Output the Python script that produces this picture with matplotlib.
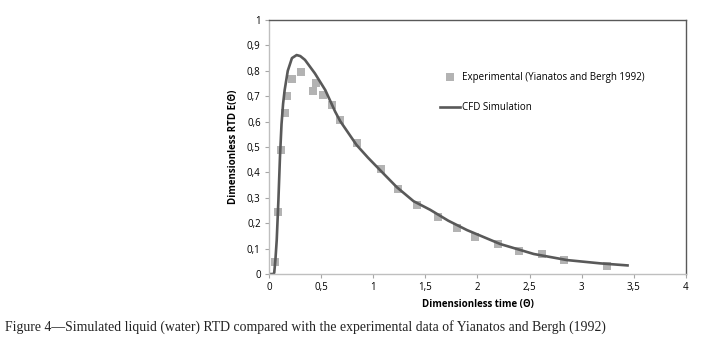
import matplotlib.pyplot as plt

# experimental RTD (Yianatos and Bergh 1992)
exp_theta = [0.058, 0.083, 0.115, 0.154, 0.17, 0.22, 0.31, 0.42, 0.45, 0.52, 0.60, 0.68,
             0.84, 1.07, 1.24, 1.42, 1.62, 1.80, 1.98, 2.20, 2.40, 2.62, 2.83, 3.24]
exp_E = [0.047, 0.244, 0.49, 0.634, 0.70, 0.768, 0.796, 0.72, 0.753, 0.705, 0.664, 0.606,
         0.517, 0.415, 0.334, 0.273, 0.223, 0.183, 0.145, 0.12, 0.091, 0.079, 0.054, 0.03]

# CFD simulation curve
cfd_theta = [0.0, 0.04, 0.05, 0.062, 0.074, 0.09, 0.105, 0.12, 0.135, 0.15, 0.18, 0.22,
             0.265, 0.30, 0.345, 0.44, 0.54, 0.635, 0.683, 0.84, 0.95, 1.066, 1.226,
             1.386, 1.546, 1.72, 1.90, 2.22, 2.54, 2.86, 3.18, 3.44]
cfd_E = [0.0, 0.0, 0.005, 0.06, 0.134, 0.29, 0.46, 0.59, 0.67, 0.724, 0.80, 0.85,
         0.862, 0.858, 0.843, 0.79, 0.724, 0.639, 0.602, 0.508, 0.458, 0.409, 0.342,
         0.287, 0.253, 0.21, 0.173, 0.118, 0.079, 0.055, 0.042, 0.034]

xticks = [0, 0.5, 1, 1.5, 2, 2.5, 3, 3.5, 4]
yticks = [0, 0.1, 0.2, 0.3, 0.4, 0.5, 0.6, 0.7, 0.8, 0.9, 1]

plt.rcParams['font.family'] = ['Open Sans', 'DejaVu Sans']

fig = plt.figure(figsize=(7.13, 3.43), dpi=100)
ax = fig.add_axes([0.3773, 0.201, 0.5847, 0.7407])

ax.plot(exp_theta, exp_E, 's', color='#b3b3b3', markersize=6.3, markeredgewidth=0,
        label='Experimental (Yianatos and Bergh 1992)')
ax.plot(cfd_theta, cfd_E, '-', color='#595959', linewidth=1.9, label='CFD Simulation')

ax.set_xlim(0, 4)
ax.set_ylim(0, 1)
ax.set_xticks(xticks)
ax.set_yticks(yticks)
ax.set_xticklabels([str(t).replace('.', ',') for t in xticks])
ax.set_yticklabels([('%g' % t).replace('.', ',') for t in yticks])
ax.tick_params(labelsize=7, length=3, color='#a6a6a6', pad=3)

for s in ['top', 'right']:
    ax.spines[s].set_color('#595959')
    ax.spines[s].set_linewidth(1.0)
for s in ['left', 'bottom']:
    ax.spines[s].set_color('#bfbfbf')
    ax.spines[s].set_linewidth(1.0)

ax.set_xlabel('Dimensionless time (\u0398)', fontsize=7, fontweight='bold', labelpad=4)
ax.set_ylabel('Dimensionless RTD E(\u0398)', fontsize=7, fontweight='bold', labelpad=6)

ax.legend(loc='upper left', bbox_to_anchor=(0.39, 0.83), frameon=False, fontsize=7,
          handlelength=2.0, handletextpad=0.2, labelspacing=2.0)

fig.text(0.007, 0.035, 'Figure 4\u2014Simulated liquid (water) RTD compared with the experimental data of Yianatos and Bergh (1992)',
         fontsize=9.9, family=['Liberation Serif', 'DejaVu Serif'], color='#222222')

plt.savefig('out.png', dpi=100)
